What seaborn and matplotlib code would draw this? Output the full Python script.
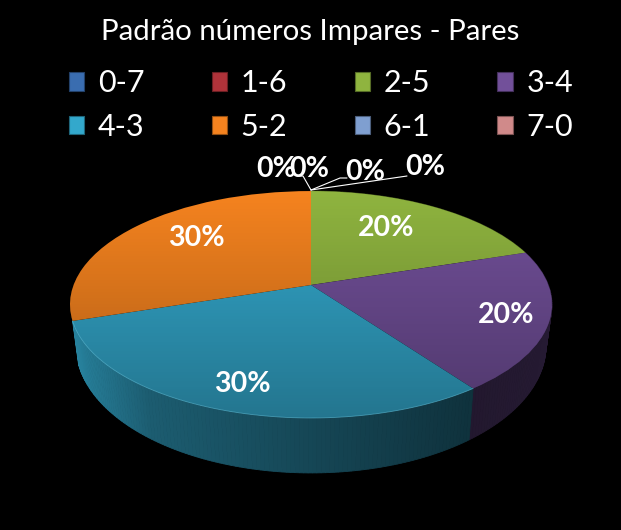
#!/usr/bin/env python3
import matplotlib
matplotlib.use('Agg')
import matplotlib.pyplot as plt
import matplotlib.transforms as mtransforms
from matplotlib.patches import Patch
from matplotlib.path import Path
import numpy as np
import seaborn as sns

TITLE = 'Padrão números Impares - Pares'
CATEGORIES = ['0-7', '1-6', '2-5', '3-4', '4-3', '5-2', '6-1', '7-0']
VALUES = [0, 0, 20, 20, 30, 30, 0, 0]
COLORS = ['#3a6db0', '#b0333a', '#8fb43f', '#72509a',
          '#33a8cc', '#f5831f', '#7f9fd0', '#d08a8a']

# layout, in pixels of the 621x530 picture
APEX = (311, 285)
LABEL_XY = [(276, 169), (309, 169), (386, 228), (506, 315),
            (242, 384), (196, 238), (365, 172), (425, 167)]
LEADERS = [[(311, 190), (303, 176), (297, 176)],
           [(311, 190), (340, 178), (347, 178)],
           [(311, 190), (407, 176)]]


class Perspective(mtransforms.Transform):
    '''tilted unit disc -> picture pixels'''
    input_dims = 2
    output_dims = 2
    is_separable = False

    def __init__(self, a=237.4, b=110.1, p=0.172, sy=1.0, dy=0.0, sx=1.0):
        super().__init__()
        self.a, self.b, self.p = a, b, p
        self.sx, self.sy, self.dy = sx, sy, dy

    def transform_non_affine(self, values):
        values = np.asarray(values, dtype=float)
        u, v = values[:, 0], values[:, 1]
        w = 1 + self.p * v
        x = APEX[0] + self.sx * self.a * u / w
        y = APEX[1] + self.dy - self.sy * self.b * v / w
        return np.column_stack([x, y])


sns.set_theme(style='dark', rc={'figure.facecolor': 'black',
                                'axes.facecolor': 'black',
                                'savefig.facecolor': 'black'})
plt.rcParams['font.family'] = ['Lato', 'DejaVu Sans']
palette = sns.color_palette(COLORS)

fig = plt.figure(figsize=(6.21, 5.30), dpi=100)
ax = fig.add_axes([0, 0, 1, 1])

top = Perspective()
bottom = Perspective(sx=0.975, sy=1.12, dy=39)

wedges, _, autotexts = ax.pie(VALUES, colors=palette, startangle=90,
                              counterclock=False, autopct='%.0f%%',
                              wedgeprops={'linewidth': 0, 'edgecolor': 'none'})
ax.set_aspect('auto')
ax.set_xlim(0, 621)
ax.set_ylim(530, 0)
ax.axis('off')
for w in wedges:
    w.set_transform(top + ax.transData)
    w.set_zorder(3)
    w.set_clip_on(False)

# side wall, one thin quad per step, darker towards the right
edges = np.cumsum([0] + VALUES) / sum(VALUES) * 2 * np.pi
for i, col in enumerate(palette):
    # the 5-2 slice sits at the back, its wall is hidden behind the 4-3 one
    if VALUES[i] == 0 or i == 5:
        continue
    th = np.linspace(edges[i], edges[i + 1], int(VALUES[i] * 4) + 2)
    ring = np.column_stack([np.sin(th), np.cos(th)])
    upper = top.transform(ring)
    lower = bottom.transform(ring)
    for j in range(len(th) - 1):
        shade = np.interp(upper[j, 0], [70, 150, 300, 470, 552],
                          [0.78, 0.55, 0.43, 0.30, 0.33])
        c = np.array(col) * shade
        ax.fill([upper[j, 0], upper[j + 1, 0], lower[j + 1, 0], lower[j, 0]],
                [upper[j, 1], upper[j + 1, 1], lower[j + 1, 1], lower[j, 1]],
                color=c, lw=0.6, zorder=2)

# top face gets darker towards the viewer
grad = np.zeros((256, 2, 4))
grad[:, :, 3] = np.linspace(0, 0.30, 256)[:, None]
im = ax.imshow(grad, extent=(60, 560, 418, 191), aspect='auto', zorder=4)
im.set_clip_path(Path.unit_circle(), top + ax.transData)
ax.set_xlim(0, 621)
ax.set_ylim(530, 0)

# thin light rim on the front of the 4-3 slice
th = np.linspace(edges[4], edges[5], 80)
rim = top.transform(np.column_stack([np.sin(th), np.cos(th)]))
ax.plot(rim[:, 0], rim[:, 1], color='#5fbcd6', lw=0.6, alpha=0.6, zorder=5)

for pts in LEADERS:
    xs, ys = zip(*pts)
    ax.plot(xs, ys, color='white', lw=0.8, zorder=5, clip_on=False)

for txt, xy in zip(autotexts, LABEL_XY):
    txt.set_transform(ax.transData)
    txt.set_position(xy)
    txt.set_color('white')
    txt.set_fontsize(20.5)
    txt.set_fontweight('bold')
    txt.set_ha('center')
    txt.set_va('center')
    txt.set_zorder(6)

fig.text(310 / 621, 1 - 32 / 530, TITLE, color='white', fontsize=21.2,
         ha='center', va='center')

handles = [Patch(facecolor=c, edgecolor=np.array(c) * 0.6, lw=0.8)
           for c in palette]
# matplotlib fills columns first, the picture reads row by row
order = [0, 4, 1, 5, 2, 6, 3, 7]
leg = fig.legend([handles[i] for i in order], [CATEGORIES[i] for i in order],
                 ncol=4, loc='center', bbox_to_anchor=(321 / 621, 1 - 105 / 530),
                 frameon=False, fontsize=22, labelcolor='white',
                 handlelength=0.5, handleheight=0.55, handletextpad=0.45,
                 columnspacing=2.2, labelspacing=0.5, borderpad=0)

fig.savefig('out.png', dpi=100)
plt.close()
